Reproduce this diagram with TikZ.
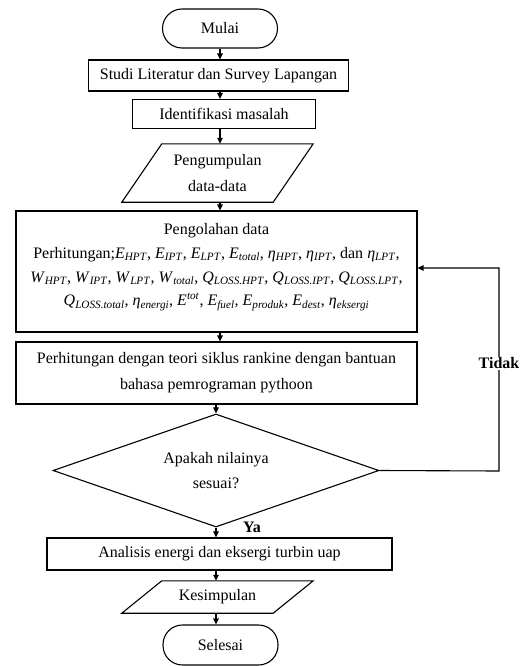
\documentclass[tikz,border=0pt]{standalone}
\usepackage{fontspec}
\setmainfont{Liberation Serif}
\usetikzlibrary{arrows.meta,shapes.geometric,calc}
\newcommand\qv[2]{\textit{#1}\textsubscript{\textit{#2}}}
\begin{document}
\begin{tikzpicture}[x=1pt,y=-1pt,
  every node/.style={font=\fontsize{16}{23.7}\selectfont},
  wide/.style={font=\fontsize{16}{26}\selectfont},
  box/.style={draw,line width=1.1pt,rectangle,inner sep=0pt,align=center},
  term/.style={box,rounded corners=19.5pt},
  io/.style={rectangle,inner sep=0pt,align=center},
  dec/.style={draw,line width=1.1pt,diamond,aspect=2.9,inner sep=0pt,align=center},
  iodraw/.style={line width=1.1pt,line join=miter},
  arr/.style={line width=1.1pt,-{Triangle[length=6pt,width=5.5pt]}},
  lbl/.style={font=\bfseries\fontsize{16}{18}\selectfont,inner sep=1pt}]
\useasboundingbox (0,0) rectangle (529,666);
\node[term,minimum width=115pt,minimum height=39pt] (mulai) at (220,28.5) {Mulai};
\node[box,minimum width=260pt,minimum height=31pt] (studi) at (218.5,75.5) {Studi Literatur dan Survey Lapangan};
\node[box,minimum width=183pt,minimum height=29pt] (ident) at (224,114) {Identifikasi masalah};
\node[io,wide,minimum width=191pt,minimum height=58pt] (peng) at (217.5,173) {Pengumpulan\\data-data};
\draw[iodraw] ($(peng.north west)+(40,0)$) -- (peng.north east) -- ($(peng.south east)+(-40,0)$) -- (peng.south west) -- cycle;
\node[box,minimum width=401pt,minimum height=121pt] (olah) at (216.5,271.5) {Pengolahan data\\
Perhitungan;\qv{E}{HPT}, \qv{E}{IPT}, \qv{E}{LPT}, \qv{E}{total}, \qv{η}{HPT}, \qv{η}{IPT}, dan \qv{η}{LPT},\\
\qv{W}{HPT}, \qv{W}{IPT}, \qv{W}{LPT}, \qv{W}{total}, \qv{Q}{LOSS.HPT}, \qv{Q}{LOSS.IPT}, \qv{Q}{LOSS.LPT},\\
\qv{Q}{LOSS.total}, \qv{η}{energi}, \textit{E}\textsuperscript{\textit{tot}}, \qv{E}{fuel}, \qv{E}{produk}, \qv{E}{dest}, \qv{η}{eksergi}\\[-10pt]~};
\node[box,wide,minimum width=401pt,minimum height=62pt] (rank) at (216.5,373) {Perhitungan dengan teori siklus rankine dengan bantuan\\bahasa pemrograman pythoon};
\node[dec,minimum width=326pt,minimum height=113pt,font=\fontsize{16}{25}\selectfont] (cek) at (216,470.5) {Apakah nilainya\\sesuai?};
\node[box,minimum width=345pt,minimum height=32pt] (anal) at (219.5,554) {Analisis energi dan eksergi turbin uap};
\node[io,minimum width=191pt,minimum height=32pt] (kes) at (217.5,597) {Kesimpulan};
\draw[iodraw] ($(kes.north west)+(40,0)$) -- (kes.north east) -- ($(kes.south east)+(-40,0)$) -- (kes.south west) -- cycle;
\node[term,minimum width=115pt,minimum height=40pt] (selesai) at (220.5,645) {Selesai};
\coordinate (fb) at (499,471);
\coordinate (fbt) at (499,268);
\draw[arr] (mulai.south) -- (mulai.south |- studi.north);
\draw[arr] (studi.south -| mulai.south) -- (mulai.south |- ident.north);
\draw[arr] (ident.south -| mulai.south) -- (mulai.south |- peng.north);
\draw[arr] (peng.south -| mulai.south) -- (mulai.south |- olah.north);
\draw[arr] (olah.south -| mulai.south) -- (mulai.south |- rank.north);
\draw[arr] (rank.south -| cek.north) -- (cek.north);
\draw[arr] (cek.south) -- (cek.south |- anal.north);
\draw[arr] (anal.south -| cek.south) -- (cek.south |- kes.north);
\draw[arr] (kes.south -| cek.south) -- (cek.south |- selesai.north);
\draw[arr] (cek.east) -- (fb) -- node[lbl,fill=white,pos=0.53] (tidak) {Tidak} (fbt) -- (fbt -| olah.east);
\node[lbl,anchor=base west] (ya) at (242,532) {Ya};
\end{tikzpicture}
\end{document}
